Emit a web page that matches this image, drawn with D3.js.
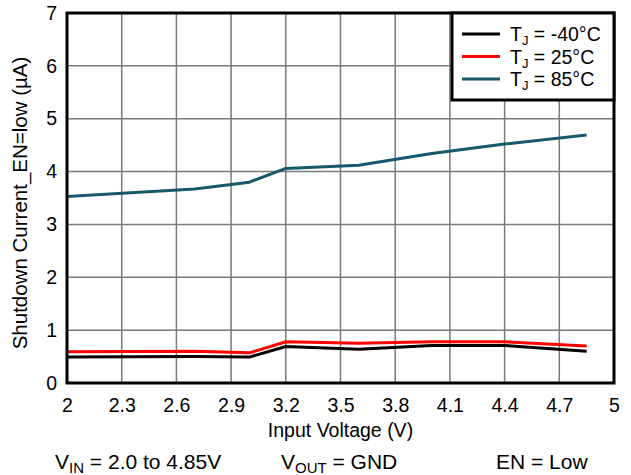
<!DOCTYPE html>
<html lang="en">
<head>
<meta charset="UTF-8">
<title>Shutdown Current vs Input Voltage</title>
<script src="https://cdnjs.cloudflare.com/ajax/libs/d3/7.8.5/d3.min.js"></script>
<style>
  body { margin: 0; background: #fff; }
  text { font-family: "Liberation Sans", Arial, sans-serif; fill: #000; }
  .grid line { stroke: #7a7a7a; stroke-width: 1.5px; }
  .series { fill: none; stroke-width: 3px; stroke-linejoin: round; }
</style>
</head>
<body>
<div id="chart"></div>
<script>
// input voltage (V)
const vin = [2.0, 2.7, 3.0, 3.2, 3.6, 4.0, 4.4, 4.85];
// shutdown current (uA)
const iMinus40 = [0.49, 0.50, 0.49, 0.69, 0.64, 0.71, 0.71, 0.60];
const i25 = [0.59, 0.60, 0.57, 0.78, 0.75, 0.78, 0.78, 0.70];
const i85 = [3.53, 3.67, 3.80, 4.06, 4.12, 4.34, 4.52, 4.69];

const xTicks = [2, 2.3, 2.6, 2.9, 3.2, 3.5, 3.8, 4.1, 4.4, 4.7, 5];
const yTicks = [0, 1, 2, 3, 4, 5, 6, 7];

const series = [
  { label: "-40°C", values: iMinus40, color: "#000000" },
  { label: "25°C", values: i25, color: "#ff0000" },
  { label: "85°C", values: i85, color: "#17586b" }
];

const W = 631, H = 475;
const margin = { top: 13, right: 17, bottom: 92, left: 67 };
const w = W - margin.left - margin.right;
const h = H - margin.top - margin.bottom;
const fs = "19.5px";

const svg = d3.select("#chart").append("svg")
  .attr("width", W).attr("height", H);
const g = svg.append("g")
  .attr("transform", `translate(${margin.left},${margin.top})`);

const x = d3.scaleLinear().domain([2, 5]).range([0, w]);
const y = d3.scaleLinear().domain([0, 7]).range([h, 0]);

// grid
const grid = g.append("g").attr("class", "grid");
grid.selectAll(".vx").data(xTicks.slice(1, -1)).enter().append("line")
  .attr("x1", d => x(d)).attr("x2", d => x(d))
  .attr("y1", 0).attr("y2", h);
grid.selectAll(".hy").data(yTicks.slice(1, -1)).enter().append("line")
  .attr("x1", 0).attr("x2", w)
  .attr("y1", d => y(d)).attr("y2", d => y(d));

// axes (labels only, frame drawn separately)
const xAxis = g.append("g").attr("transform", `translate(0,${h})`)
  .call(d3.axisBottom(x).tickValues(xTicks).tickSize(0).tickPadding(15)
    .tickFormat(d3.format("")));
const yAxis = g.append("g")
  .call(d3.axisLeft(y).tickValues(yTicks).tickSize(0).tickPadding(10)
    .tickFormat(d3.format("d")));
[xAxis, yAxis].forEach(a => {
  a.select(".domain").remove();
  a.selectAll("text").style("font-size", fs)
    .style("font-family", "'Liberation Sans', Arial, sans-serif").attr("fill", "#000");
});

// lines
const line = d3.line()
  .x((d, i) => x(vin[i]))
  .y(d => y(d));
series.forEach(s => {
  g.append("path").attr("class", "series")
    .attr("stroke", s.color)
    .attr("d", line(s.values));
});

// frame
g.append("rect").attr("x", 0).attr("y", 0).attr("width", w).attr("height", h)
  .attr("fill", "none").attr("stroke", "#000").attr("stroke-width", 3);

// axis titles
svg.append("text")
  .attr("x", margin.left + w / 2).attr("y", 437)
  .attr("text-anchor", "middle").style("font-size", fs)
  .text("Input Voltage (V)");
svg.append("text")
  .attr("transform", `translate(27,${margin.top + h / 2 + 5}) rotate(-90)`)
  .attr("text-anchor", "middle").style("font-size", "20.5px")
  .text("Shutdown Current_EN=low (µA)");

// legend
const lg = g.append("g").attr("transform", `translate(${w - 162},0)`);
lg.append("rect").attr("width", 162).attr("height", 87)
  .attr("fill", "#fff").attr("stroke", "#000").attr("stroke-width", 3);
series.forEach((s, i) => {
  const yy = 21 + i * 22.5;
  lg.append("line").attr("x1", 10).attr("x2", 48)
    .attr("y1", yy).attr("y2", yy)
    .attr("stroke", s.color).attr("stroke-width", 3);
  const t = lg.append("text").attr("x", 58).attr("y", yy + 7)
    .style("font-size", fs);
  t.append("tspan").text("T");
  t.append("tspan").attr("dy", 4).style("font-size", "13px").text("J");
  t.append("tspan").attr("dy", -4).text(" = " + s.label);
});

// conditions footnote
const notes = [
  { x: 55, main: "V", sub: "IN", rest: " = 2.0 to 4.85V" },
  { x: 281, main: "V", sub: "OUT", rest: " = GND" },
  { x: 496, main: "", sub: "", rest: "EN = Low" }
];
notes.forEach(n => {
  const t = svg.append("text").attr("x", n.x).attr("y", 469).style("font-size", "21px");
  if (n.main) {
    t.append("tspan").text(n.main);
    t.append("tspan").attr("dy", 4).style("font-size", "15px").text(n.sub);
    t.append("tspan").attr("dy", -4).text(n.rest);
  } else {
    t.text(n.rest);
  }
});
</script>
</body>
</html>
